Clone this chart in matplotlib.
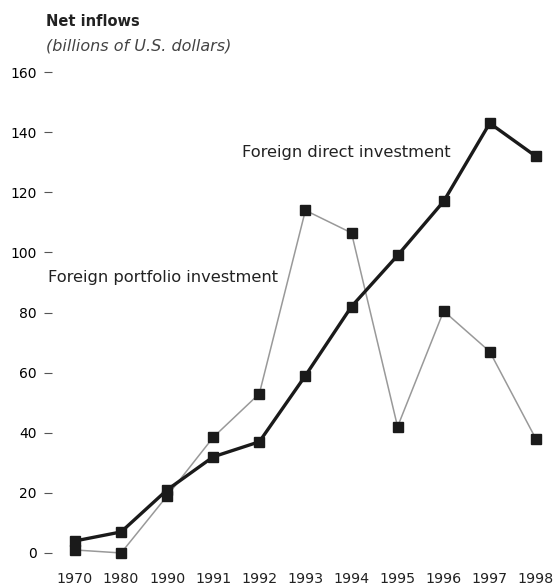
import matplotlib.pyplot as plt

plt.rcParams['font.family'] = ['DejaVu Sans']

years = ['1970', '1980', '1990', '1991', '1992', '1993', '1994', '1995', '1996', '1997', '1998']
fdi = [4, 7, 21, 32, 37, 59, 82, 99, 117, 143, 132]
fpi = [1, 0, 19, 38.5, 53, 114, 106.5, 42, 80.5, 67, 38]
y_ticks = [0, 20, 40, 60, 80, 100, 120, 140, 160]

fig = plt.figure(figsize=(5.54, 5.86), dpi=100)
ax = fig.add_axes([0.1063, 0.0256, 0.890, 0.877])

x = list(range(len(years)))

# portfolio investment: thin grey line
ax.plot(x, fpi, color='#999999', linewidth=1.1, marker='s', markersize=7.5,
        markerfacecolor='#1a1a1a', markeredgecolor='#1a1a1a', zorder=2)
# direct investment: heavy black line
ax.plot(x, fdi, color='#1a1a1a', linewidth=2.4, marker='s', markersize=7.5,
        markerfacecolor='#1a1a1a', markeredgecolor='#1a1a1a', zorder=3)

ax.set_xlim(-0.35, 10.35)
ax.set_ylim(-6, 165)
ax.set_xticks(x)
ax.set_xticklabels(years, fontsize=10.3, color='#222222')
ax.set_yticks(y_ticks)
ax.set_yticklabels([str(v) for v in y_ticks], fontsize=10.3, color='#222222')

for s in ['top', 'right', 'bottom']:
    ax.spines[s].set_visible(False)
ax.spines['left'].set_position(('outward', 5))
ax.spines['left'].set_visible(False)
ax.tick_params(axis='y', length=6, width=0.8, color='#555555', pad=5)
ax.tick_params(axis='x', length=0, pad=1)

ax.text(3.62, 133.4, 'Foreign direct investment', fontsize=11.7, color='#222222',
        va='center')
ax.text(-0.59, 91.5, 'Foreign portfolio investment', fontsize=11.7, color='#222222',
        va='center')

fig.text(46 / 554, 1 - 22 / 586, 'Net inflows', fontsize=10.5, fontweight='bold',
         color='#222222', va='center', ha='left')
fig.text(46 / 554, 1 - 46 / 586, '(billions of U.S. dollars)', fontsize=11.5,
         fontstyle='italic', color='#444444', va='center', ha='left')

plt.savefig('out.png', dpi=100)
